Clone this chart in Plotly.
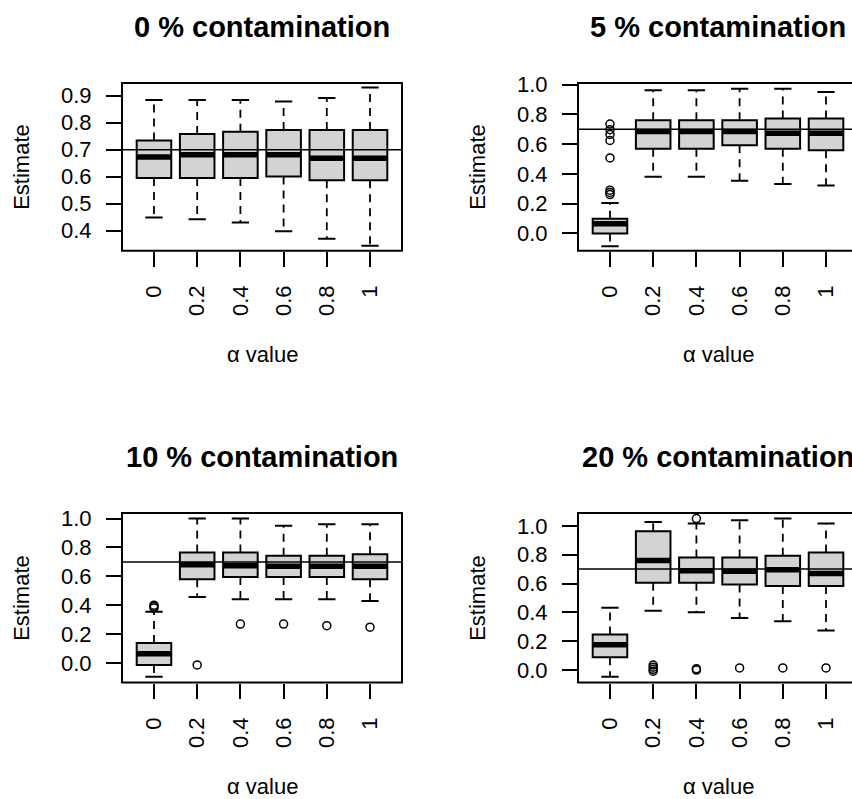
import plotly.graph_objects as go

W, H = 852, 799

alpha_labels = ["0", "0.2", "0.4", "0.6", "0.8", "1"]
titles = ["0 % contamination", "5 % contamination", "10 % contamination", "20 % contamination"]
true_value = 0.7

# 0 % contamination
c0_lower = [0.449, 0.442, 0.430, 0.398, 0.370, 0.344]
c0_q1 = [0.595, 0.595, 0.595, 0.601, 0.587, 0.587]
c0_med = [0.673, 0.681, 0.681, 0.681, 0.668, 0.668]
c0_q3 = [0.734, 0.758, 0.766, 0.773, 0.773, 0.773]
c0_upper = [0.884, 0.884, 0.884, 0.878, 0.891, 0.930]
c0_out = [[], [], [], [], [], []]

# 5 % contamination
c5_lower = [-0.088, 0.381, 0.381, 0.354, 0.332, 0.321]
c5_q1 = [-0.002, 0.569, 0.569, 0.593, 0.569, 0.558]
c5_med = [0.064, 0.684, 0.684, 0.684, 0.673, 0.673]
c5_q3 = [0.097, 0.761, 0.761, 0.761, 0.772, 0.772]
c5_upper = [0.204, 0.962, 0.962, 0.973, 0.973, 0.951]
c5_out = [[0.735, 0.697, 0.665, 0.624, 0.507, 0.29, 0.275, 0.26], [], [], [], [], []]

# 10 % contamination
c10_lower = [-0.096, 0.457, 0.441, 0.441, 0.441, 0.429]
c10_q1 = [-0.014, 0.580, 0.596, 0.596, 0.596, 0.580]
c10_med = [0.064, 0.680, 0.674, 0.669, 0.669, 0.669]
c10_q3 = [0.137, 0.765, 0.765, 0.742, 0.742, 0.753]
c10_upper = [0.355, 1.0, 1.0, 0.950, 0.961, 0.961]
c10_out = [[0.40, 0.39, 0.38], [-0.014], [0.269], [0.269], [0.258], [0.247]]

# 20 % contamination
c20_lower = [-0.046, 0.411, 0.400, 0.361, 0.338, 0.274]
c20_q1 = [0.089, 0.605, 0.605, 0.594, 0.582, 0.582]
c20_med = [0.176, 0.760, 0.689, 0.685, 0.696, 0.669]
c20_q3 = [0.247, 0.963, 0.781, 0.781, 0.792, 0.815]
c20_upper = [0.432, 1.027, 1.016, 1.039, 1.050, 1.016]
c20_out = [[], [0.035, 0.02, 0.005, -0.008], [1.05, 0.01, 0.0], [0.015], [0.015], [0.015]]

panels_data = [
    (c0_lower, c0_q1, c0_med, c0_q3, c0_upper, c0_out),
    (c5_lower, c5_q1, c5_med, c5_q3, c5_upper, c5_out),
    (c10_lower, c10_q1, c10_med, c10_q3, c10_upper, c10_out),
    (c20_lower, c20_q1, c20_med, c20_q3, c20_upper, c20_out),
]

y_ranges = [(0.326, 0.947), (-0.117, 1.011), (-0.137, 1.039), (-0.087, 1.089)]
y_dticks = [0.1, 0.2, 0.2, 0.2]

# layout in pixels (left, right, top, bottom) of each plot frame
boxes_px = [(122, 402, 73, 243), (578, 858, 73, 243), (122, 402, 509, 681), (578, 858, 509, 681)]
X0, X1 = 0.26, 6.74

FONT = "Liberation Sans, Arial, sans-serif"
BOXW = 0.8

fig = go.Figure()
layout = dict(
    width=W, height=H, margin=dict(l=0, r=0, t=0, b=0),
    paper_bgcolor="white", plot_bgcolor="white", showlegend=False,
    font=dict(family=FONT, size=22, color="black"),
)
shapes = []
annotations = []

for k, (data, (l, r, t, b)) in enumerate(zip(panels_data, boxes_px)):
    n = k + 1
    sfx = "" if n == 1 else str(n)
    xa, ya = "x" + sfx, "y" + sfx
    lower, q1, med, q3, upper, outs = data
    pos = list(range(1, len(alpha_labels) + 1))

    r_vis = min(r, W)
    xr1 = X0 + (r_vis - l) / (r - l) * (X1 - X0)

    layout["xaxis" + sfx] = dict(
        domain=[l / W, r_vis / W], range=[X0, xr1], anchor=ya,
        tickmode="array", tickvals=pos, ticktext=alpha_labels, tickangle=-90,
        ticks="outside", ticklen=15, tickwidth=1.8, tickcolor="black",
        showline=False, showgrid=False, zeroline=False,
        ticklabelstandoff=10, tickfont=dict(size=22, color="black"),
    )
    layout["yaxis" + sfx] = dict(
        domain=[1 - b / H, 1 - t / H], range=list(y_ranges[k]), anchor=xa,
        tickmode="linear", tick0=0, dtick=y_dticks[k], tickformat=".1f",
        ticks="outside", ticklen=15, tickwidth=1.8, tickcolor="black",
        showline=False, showgrid=False, zeroline=False,
        ticklabelstandoff=10, tickfont=dict(size=22, color="black"),
    )

    # boxes
    fig.add_trace(go.Box(
        x=pos, q1=q1, median=med, q3=q3, lowerfence=q1, upperfence=q3,
        width=BOXW, whiskerwidth=0, boxpoints=False,
        fillcolor="#D3D3D3", line=dict(color="black", width=2),
        xaxis=xa, yaxis=ya, hoverinfo="skip",
    ))

    # dashed whiskers
    wx, wy = [], []
    for i, p in enumerate(pos):
        wx += [p, p, None, p, p, None]
        wy += [q3[i], upper[i], None, q1[i], lower[i], None]
    fig.add_trace(go.Scatter(x=wx, y=wy, mode="lines",
                             line=dict(color="black", width=1.8, dash="8px,6px"),
                             xaxis=xa, yaxis=ya, hoverinfo="skip"))

    # staples
    sx, sy = [], []
    for i, p in enumerate(pos):
        for v in (upper[i], lower[i]):
            sx += [p - BOXW / 4, p + BOXW / 4, None]
            sy += [v, v, None]
    fig.add_trace(go.Scatter(x=sx, y=sy, mode="lines",
                             line=dict(color="black", width=2),
                             xaxis=xa, yaxis=ya, hoverinfo="skip"))

    # medians
    mx, my = [], []
    for i, p in enumerate(pos):
        mx += [p - BOXW / 2, p + BOXW / 2, None]
        my += [med[i], med[i], None]
    fig.add_trace(go.Scatter(x=mx, y=my, mode="lines",
                             line=dict(color="black", width=5.5),
                             xaxis=xa, yaxis=ya, hoverinfo="skip"))

    # outliers
    ox, oy = [], []
    for i, p in enumerate(pos):
        for v in outs[i]:
            ox.append(p)
            oy.append(v)
    if ox:
        fig.add_trace(go.Scatter(x=ox, y=oy, mode="markers",
                                 marker=dict(symbol="circle-open", size=8, color="black",
                                             line=dict(width=1.5, color="black")),
                                 xaxis=xa, yaxis=ya, hoverinfo="skip"))

    # reference line at true value
    shapes.append(dict(type="line", xref=xa + " domain", yref=ya,
                       x0=0, x1=1, y0=true_value, y1=true_value,
                       line=dict(color="black", width=1.5)))
    # frame
    shapes.append(dict(type="rect", xref=xa + " domain", yref=ya + " domain",
                       x0=0, x1=(r - l) / (r_vis - l), y0=0, y1=1,
                       line=dict(color="black", width=2)))

    # title
    annotations.append(dict(text="<b>" + titles[k] + "</b>", xref=xa, yref=ya + " domain",
                            x=(X0 + X1) / 2, y=1, yanchor="middle", xanchor="center",
                            yshift=56, showarrow=False,
                            font=dict(family=FONT, size=29, color="black")))
    # x label
    annotations.append(dict(text="α value", xref=xa, yref=ya + " domain",
                            x=(X0 + X1) / 2, y=0, yanchor="middle", xanchor="center",
                            yshift=-104, showarrow=False,
                            font=dict(family=FONT, size=22, color="black")))
    # y label
    annotations.append(dict(text="Estimate", xref=xa + " domain", yref=ya + " domain",
                            x=0, y=0.5, xanchor="center", yanchor="middle",
                            xshift=-100, textangle=-90, showarrow=False,
                            font=dict(family=FONT, size=22, color="black")))

layout["shapes"] = shapes
layout["annotations"] = annotations
fig.update_layout(**layout)
fig.write_html("out.html",
               config={"displayModeBar": False},
               post_script="document.body.style.margin='0px';document.body.style.overflow='hidden';")
